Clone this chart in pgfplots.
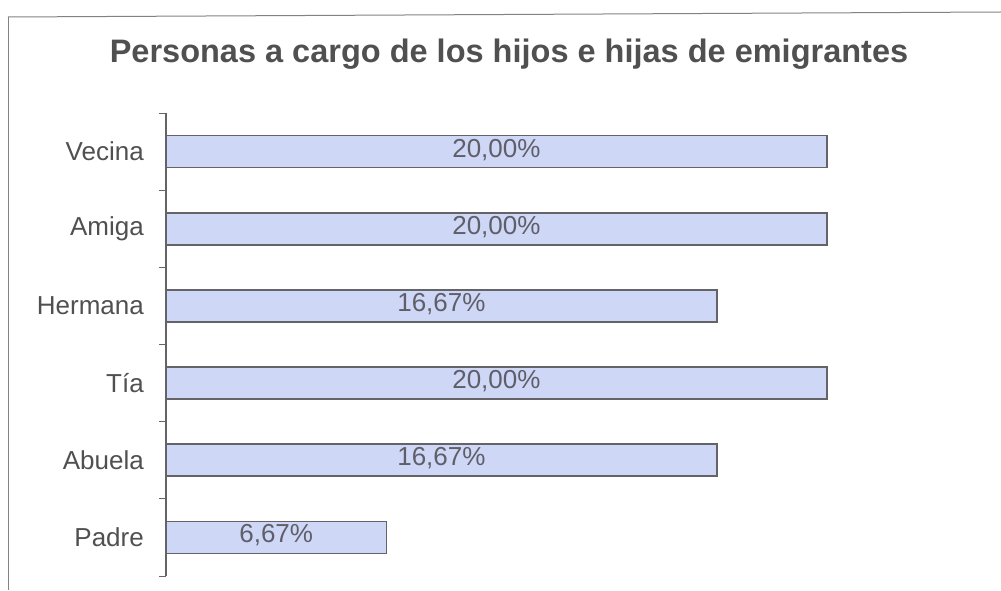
\documentclass[border=0pt]{standalone}
\usepackage{pgfplots}
\pgfplotsset{compat=1.18}
\usepackage{pgfplotstable}
\usepackage{fontspec}
\setmainfont{Liberation Sans}
\definecolor{barfill}{RGB}{207,215,246}
\definecolor{barline}{RGB}{100,100,104}
\definecolor{txt}{RGB}{80,80,80}
\definecolor{lbl}{RGB}{95,95,105}
\definecolor{framec}{RGB}{130,130,130}
\pgfplotstableread[col sep=semicolon]{
y;v;lab
0;6.67;6,67\%
1;16.67;16,67\%
2;20.00;20,00\%
3;16.67;16,67\%
4;20.00;20,00\%
5;20.00;20,00\%
}\datatable
\begin{document}
\begin{tikzpicture}[x=1pt,y=1pt]
\useasboundingbox (0,0) rectangle (1001,590);
\draw[framec, line width=1pt] (8,573) -- (1001,578);
\draw[framec, line width=1pt] (8,573) -- (8,0);
\node[anchor=base, font=\fontsize{32.5}{38}\selectfont\bfseries, text=txt] at (509,527) {Personas a cargo de los hijos e hijas de emigrantes};
\begin{axis}[
  at={(166pt,14pt)}, anchor=south west,
  scale only axis, width=826pt, height=463pt,
  xmin=0, xmax=25, ymin=-0.5, ymax=5.5,
  axis x line=none,
  axis y line*=left,
  y axis line style={barline, line width=1.2pt, -},
  ytick={0,...,5},
  yticklabels={Padre,Abuela,Tía,Hermana,Amiga,Vecina},
  major tick length=0pt,
  yticklabel style={font=\fontsize{26}{30}\selectfont, text=txt, inner sep=0pt, xshift=-22pt},
  extra y ticks={-0.5,0.5,1.5,2.5,3.5,4.5,5.5},
  extra y tick labels={},
  extra y tick style={major tick length=7pt, tick align=outside, tick style={barline, line width=1pt}},
  clip=false,
]
\addplot[xbar, bar width=32pt, fill=barfill, draw=barline, line width=1.6pt]
  table[x=v, y=y] {\datatable};
\addplot[only marks, mark=none, nodes near coords, point meta=explicit symbolic,
  nodes near coords align=center,
  nodes near coords style={font=\fontsize{26}{30}\selectfont, text=lbl, anchor=center, yshift=2pt}]
  table[x expr=\thisrow{v}/2, y=y, meta=lab] {\datatable};
\end{axis}
\end{tikzpicture}
\end{document}
